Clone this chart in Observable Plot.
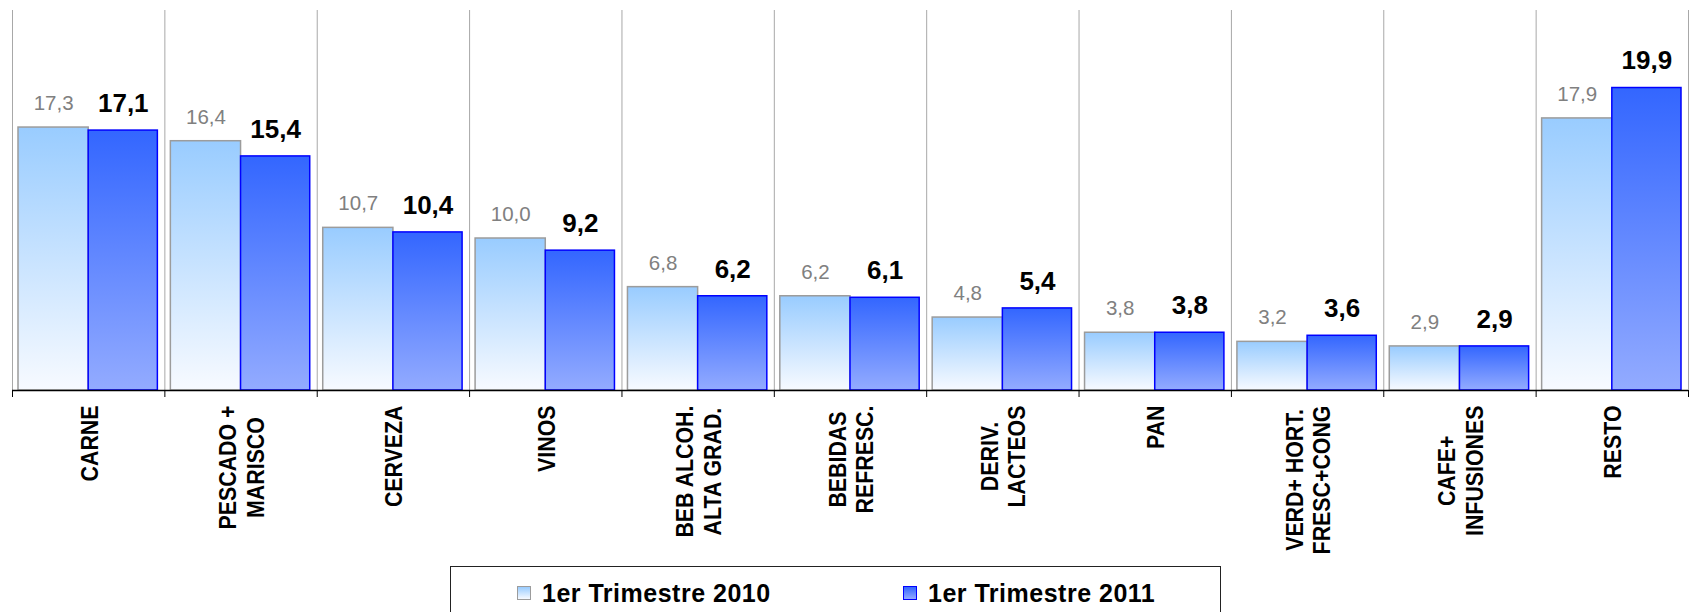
<!DOCTYPE html>
<html><head><meta charset="utf-8">
<script src="https://cdn.jsdelivr.net/npm/d3@7"></script>
<script src="https://cdn.jsdelivr.net/npm/@observablehq/plot@0.6"></script>
<style>
body{margin:0;background:#fff;font-family:"Liberation Sans",Arial,sans-serif;}
#wrap{position:relative;width:1690px;height:612px;overflow:hidden;}
#chart svg{display:block;}
#legend{position:absolute;left:450px;top:566px;width:771px;height:60px;border:1.5px solid #222;box-sizing:border-box;background:#fff;}
.item{position:absolute;top:11px;height:30px;display:flex;align-items:center;font-weight:bold;font-size:25px;letter-spacing:0.5px;color:#000;white-space:nowrap;}
.sw{width:14px;height:14px;box-sizing:border-box;margin-right:11px;}
</style></head>
<body><div id="wrap"><div id="chart"></div><div id="legend"></div></div>
<script>
const categories = ["CARNE","PESCADO +\nMARISCO","CERVEZA","VINOS","BEB ALCOH.\nALTA GRAD.","BEBIDAS\nREFRESC.","DERIV.\nLACTEOS","PAN","VERD+ HORT.\nFRESC+CONG","CAFE+\nINFUSIONES","RESTO"];
const values2010 = [17.3,16.4,10.7,10.0,6.8,6.2,4.8,3.8,3.2,2.9,17.9];
const values2011 = [17.1,15.4,10.4,9.2,6.2,6.1,5.4,3.8,3.6,2.9,19.9];
const seriesNames = ["1er Trimestre 2010","1er Trimestre 2011"];

const rows = categories.map((c, i) => ({cat: c, i, v10: values2010[i], v11: values2011[i]}));
const fmt = v => d3.format(".1f")(v).replace(".", ",");
const boundaries = d3.range(categories.length + 1);

const svg = Plot.plot({
  width: 1690, height: 566,
  marginLeft: 12, marginRight: 2, marginTop: 10, marginBottom: 176,
  style: {fontFamily: "'Liberation Sans', Arial, sans-serif", background: "white", overflow: "visible"},
  x: {type: "linear", domain: [0, categories.length], ticks: boundaries, tickFormat: () => "", tickSize: 7, label: null},
  y: {domain: [0, 25], axis: null},
  marks: [
    Plot.ruleX(boundaries, {x: d => d, y1: () => 0, y2: () => 25, stroke: "#a8a8a8", strokeWidth: 1}),
    Plot.rectY(rows, {x1: d => d.i, x2: d => d.i + 0.5, y: "v10", insetLeft: 6, fill: "url(#g10)", stroke: "#9c9c9c", strokeWidth: 1.5}),
    Plot.rectY(rows, {x1: d => d.i + 0.5, x2: d => d.i + 1, y: "v11", insetRight: 7, fill: "url(#g11)", stroke: "#0000ff", strokeWidth: 1.5}),
    Plot.ruleY([0], {stroke: "#000", strokeWidth: 1.5}),
    Plot.text(rows, {x: d => d.i + 0.25, y: "v10", text: d => fmt(d.v10), dx: 3, dy: -24, fill: "#808080", fontSize: 20.5}),
    Plot.text(rows, {x: d => d.i + 0.75, y: "v11", text: d => fmt(d.v11), dx: -3.5, dy: -27, fill: "#000", fontSize: 26, fontWeight: "bold"}),
    Plot.text(rows, {x: d => d.i + 0.5, y: () => 0, text: "cat", rotate: -90, textAnchor: "end", dy: 15, fontSize: 24, fontWeight: "bold", lineHeight: 1.15, fill: "#000"})
  ]
});

document.getElementById("chart").appendChild(svg);

// gradients (per-bar, top to bottom)
const defs = d3.select(svg).insert("defs", ":first-child");
function grad(id, top, bottom) {
  const g = defs.append("linearGradient").attr("id", id).attr("x1", 0).attr("y1", 0).attr("x2", 0).attr("y2", 1);
  g.append("stop").attr("offset", "0%").attr("stop-color", top);
  g.append("stop").attr("offset", "100%").attr("stop-color", bottom);
}
grad("g10", "#99ccff", "#f7faff");
grad("g11", "#3366ff", "#93abff");

// category labels: condensed, lines centred within the block
d3.select(svg).selectAll("text").each(function() {
  const t = this.getAttribute("transform") || "";
  if (!t.includes("rotate(-90)")) return;
  const tspans = this.querySelectorAll("tspan");
  if (tspans.length > 1) {
    const maxLen = d3.max(Array.from(tspans), s => s.getComputedTextLength());
    tspans.forEach(s => { s.setAttribute("text-anchor", "middle"); s.setAttribute("x", -maxLen / 2); });
  }
  this.setAttribute("transform", t + " scale(0.89,1)");
});

// legend
const legend = d3.select("#legend");
const swatches = [
  {bg: "linear-gradient(#99ccff,#f7faff)", border: "#9c9c9c", left: 66},
  {bg: "linear-gradient(#3366ff,#93abff)", border: "#0000ff", left: 452}
];
seriesNames.forEach((name, k) => {
  const it = legend.append("div").attr("class", "item").style("left", swatches[k].left + "px");
  it.append("div").attr("class", "sw").style("background", swatches[k].bg).style("border", "1.5px solid " + swatches[k].border);
  it.append("span").text(name);
});
</script>
</body></html>
